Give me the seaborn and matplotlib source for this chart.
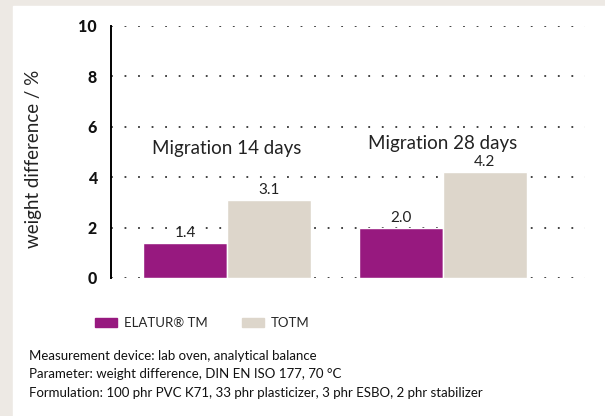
import matplotlib
matplotlib.use("Agg")
import matplotlib.pyplot as plt
import matplotlib.patches as mpatches
import seaborn as sns
import pandas as pd

# data
groups = ["Migration 14 days", "Migration 28 days"]
products = ["ELATUR® TM", "TOTM"]
elatur_vals = [1.4, 2.0]
totm_vals = [3.1, 4.2]
y_ticks = [0, 2, 4, 6, 8, 10]
notes = [
    "Measurement device: lab oven, analytical balance",
    "Parameter: weight difference, DIN EN ISO 177, 70 °C",
    "Formulation: 100 phr PVC K71, 33 phr plasticizer, 3 phr ESBO, 2 phr stabilizer",
]

PURPLE = "#97197f"
BEIGE = "#ddd6cb"
BG = "#ede9e4"

sns.set_theme(style="white")
plt.rcParams['font.family'] = ['Lato', 'DejaVu Sans']

df = pd.DataFrame({
    "group": groups * 2,
    "product": [products[0]] * 2 + [products[1]] * 2,
    "value": elatur_vals + totm_vals,
})

fig = plt.figure(figsize=(6.05, 4.16), dpi=100, facecolor=BG)
# white card behind everything
fig.patches.append(mpatches.Rectangle((13 / 605, 0), 1, 1 - 6 / 416,
                                      transform=fig.transFigure, color="white", zorder=-10))

ax = fig.add_axes([111 / 605, 1 - 278 / 416, 474 / 605, 252 / 416])
ax.set_facecolor("none")
ax.set_zorder(2)

sns.barplot(data=df, x="group", y="value", hue="product", ax=ax,
            palette=[PURPLE, BEIGE], width=0.775, dodge=True, legend=False,
            saturation=1, zorder=3)

ax.set_ylim(0, 10)
ax.set_xlim(-0.537, 1.657)
ax.set_yticks(y_ticks)
ax.set_yticklabels([str(t) for t in y_ticks], fontweight="black", fontsize=11.5)
ax.tick_params(axis="y", length=0, pad=10, colors="#111111")
ax.set_xticks([])
ax.set_xlabel("")
ax.set_ylabel("weight difference / %", fontsize=13.5, color="#222222")
ax.yaxis.set_label_coords(-0.146, 0.472)
ax.yaxis.grid(True, linestyle=(0, (1, 6.5)), color="#333333", linewidth=1.3)
ax.set_axisbelow(True)
for s in ["top", "right", "bottom"]:
    ax.spines[s].set_visible(False)
ax.spines["left"].set_color("black")
ax.spines["left"].set_linewidth(1.4)

# value labels
for cont in ax.containers:
    for bar in cont:
        h = bar.get_height()
        ax.annotate(f"{h:.1f}", (bar.get_x() + bar.get_width() / 2, h),
                    xytext=(0, 2), textcoords="offset points",
                    ha="center", va="bottom", fontsize=11, color="#222222")

# group titles
ax.text(0, 5.15, groups[0], ha="center", va="center", fontsize=13.5, color="#222222")
ax.text(1, 5.35, groups[1], ha="center", va="center", fontsize=13.5, color="#222222")

handles = [mpatches.Patch(color=PURPLE, label=products[0]),
           mpatches.Patch(color=BEIGE, label=products[1])]
fig.legend(handles=handles, loc="center left", bbox_to_anchor=(83 / 605, 1 - 323 / 416),
           ncol=2, frameon=False, fontsize=9.5, handlelength=1.7, handleheight=0.6,
           handletextpad=0.5, columnspacing=2.6)

fig.text(29 / 605, 1 - 350 / 416, "\n".join(notes), ha="left", va="top",
         fontsize=9.5, linespacing=1.65, color="#111111")

fig.savefig("out.png", dpi=100, facecolor=BG)
